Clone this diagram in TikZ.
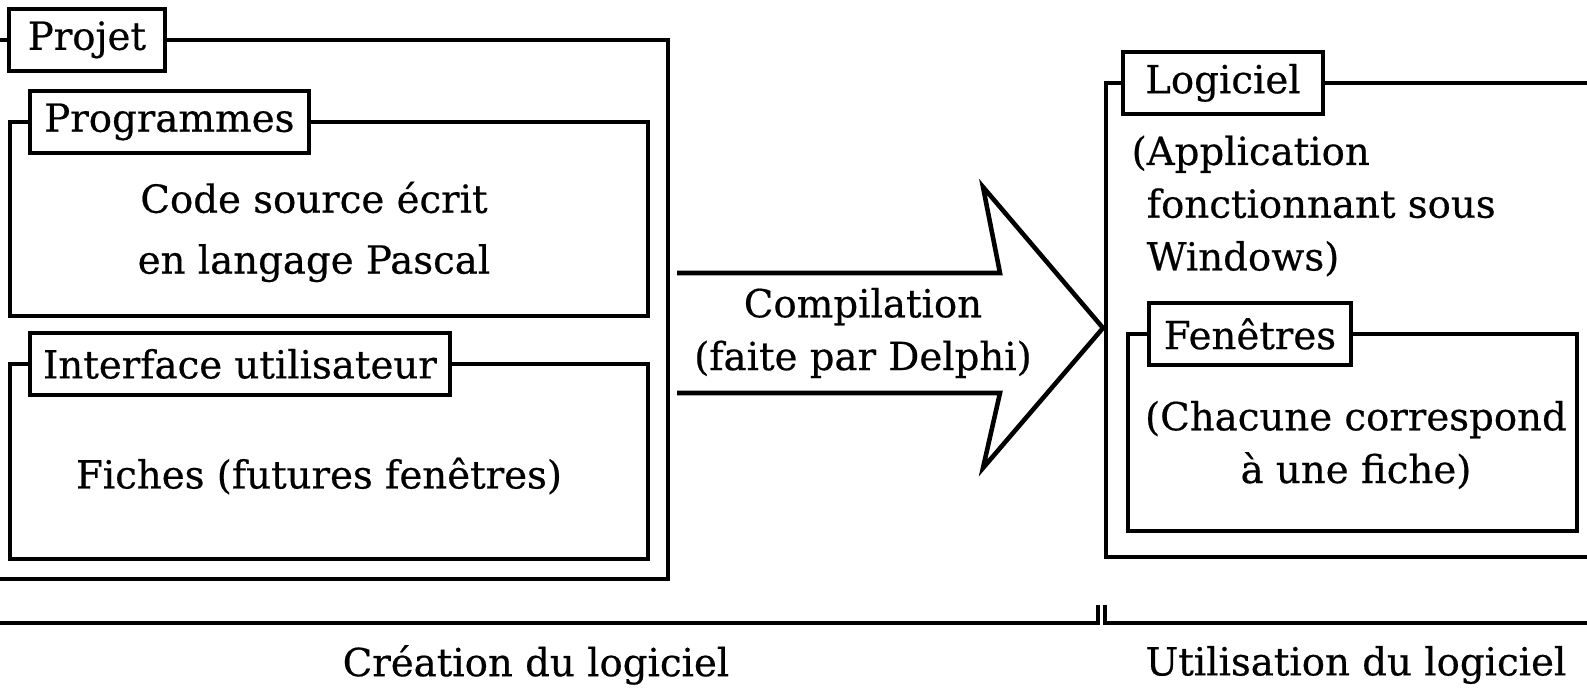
\documentclass[tikz,border=0pt]{standalone}
\usepackage{fontspec}
\setmainfont{DejaVu Serif}[FakeBold=0.5]
\usetikzlibrary{positioning}

\begin{document}
\begin{tikzpicture}[
  x=0.01cm, y=-0.01cm,
  frm/.style={rectangle, draw=black, line width=1.3pt, inner sep=0pt, outer sep=0pt},
  lbl/.style={rectangle, draw=black, line width=1.3pt, fill=white, inner sep=0pt,
              outer sep=0pt, minimum height=0.62cm, font=\fontsize{11}{15}\selectfont},
  txt/.style={align=center, font=\fontsize{11}{15}\selectfont, inner sep=0pt},
  shaft/.style={line width=1.3pt, line join=miter},
]
\useasboundingbox (0,0) rectangle (1587,689);

% Frames
\node[frm, minimum width=6.79cm, minimum height=5.39cm] (PRJ) at (328.5,309.5) {};
\node[frm, minimum width=6.38cm, minimum height=1.94cm] (PRG) at (329,219) {};
\node[frm, minimum width=6.38cm, minimum height=1.95cm] (IHM) at (329,461.5) {};
\node[frm, minimum width=5.04cm, minimum height=4.74cm] (LOG) at (1358,320) {};
\node[frm, minimum width=4.49cm, minimum height=1.97cm] (FEN) at (1352.5,432.5) {};

% Labels sitting on the top edges
\node[lbl, minimum width=1.56cm, right=0.2cm of PRJ.north west] (PRJl) {Projet};
\node[lbl, minimum width=2.79cm, right=0.2cm of PRG.north west] (PRGl) {Programmes};
\node[lbl, minimum width=4.20cm, right=0.2cm of IHM.north west] (IHMl) {Interface utilisateur};
\node[lbl, minimum width=2.00cm, right=0.17cm of LOG.north west] (LOGl) {Logiciel};
\node[lbl, minimum width=2.02cm, right=0.21cm of FEN.north west] (FENl) {Fenêtres};

% Contents
\node[txt, font=\fontsize{11}{17.3}\selectfont] (PRGt) at (314,232)
  {Code source écrit\\en langage Pascal};
\node[txt] (IHMt) at (319,476) {Fiches (futures fenêtres)};
\node[txt, align=left, anchor=west] (LOGt) at (1131,206)
  {(Application\\\hphantom{(}fonctionnant sous\\\hphantom{(}Windows)};
\node[txt] (FENt) at (1356,445) {(Chacune correspond\\à une fiche)};

% Big arrow
\coordinate (a1) at (677,273);
\coordinate (a2) at (1000,273);
\coordinate (a3) at (983,187);
\coordinate (tip) at (1103,328);
\coordinate (a5) at (983,468);
\coordinate (a6) at (1000,393);
\coordinate (a7) at (677,393);
\draw[shaft] (a1) -- (a2) -- (a3) -- (tip) -- (a5) -- (a6) -- (a7);
\node[txt] (CMP) at (863,333) {Compilation\\(faite par Delphi)};

% Time line
\coordinate (t0) at (-10,623);
\coordinate (t1) at (1098,623);
\coordinate (t2) at (1105,623);
\coordinate (t3) at (1600,623);
\draw[shaft] (t0) -- (t1) -- ++(0,-18);
\draw[shaft] (t2) ++(0,-18) -- (t2) -- (t3);
\node[txt] (CRE) at (536,665) {Création du logiciel};
\node[txt] (UTI) at (1356,665) {Utilisation du logiciel};

\end{tikzpicture}
\end{document}
